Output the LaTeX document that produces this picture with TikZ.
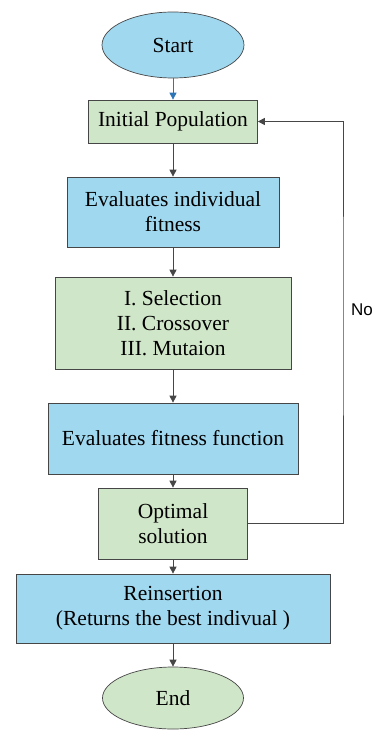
\documentclass[tikz,border=0pt]{standalone}
\usepackage{fontspec}
\setmainfont{Liberation Serif}
\newfontfamily\nofont{Liberation Sans}
\usetikzlibrary{shapes.geometric,arrows.meta,positioning}
\definecolor{boxblue}{RGB}{160,216,239}
\definecolor{boxgreen}{RGB}{208,230,200}
\definecolor{edgegray}{RGB}{70,70,70}
\definecolor{startblue}{RGB}{46,117,182}
\begin{document}
\begin{tikzpicture}[x=1pt,y=1pt,
	blk/.style = {draw=edgegray, line width=0.7pt, rectangle, align=center, inner sep=0pt, font=\fontsize{21.5}{25}\selectfont},
	term/.style = {draw=edgegray, line width=0.7pt, ellipse, inner sep=0pt, font=\fontsize{21.5}{25}\selectfont},
	flow/.style = {draw=edgegray, line width=0.8pt, -{Triangle[length=7pt,width=7pt]}}]
	\useasboundingbox (0,0) rectangle (376,-730);
	\node[term, fill=boxblue, minimum width=142pt, minimum height=66pt] (start) at (173,-45) {Start};
	\node[blk, fill=boxgreen, minimum width=169pt, minimum height=43pt, node distance=76.5pt] (init) [below of=start] {Initial Population};
	\node[blk, fill=boxblue, minimum width=212pt, minimum height=70pt, node distance=90.5pt] (evalind) [below of=init] {Evaluates individual\\fitness};
	\node[blk, fill=boxgreen, minimum width=236pt, minimum height=92pt, node distance=111pt] (ops) [below of=evalind] {I. Selection\\II. Crossover\\III. Mutaion};
	\node[blk, fill=boxblue, minimum width=250pt, minimum height=71pt, node distance=115.5pt] (evalfun) [below of=ops] {Evaluates fitness function};
	\node[blk, fill=boxgreen, minimum width=149pt, minimum height=71pt, node distance=85pt] (opt) [below of=evalfun] {Optimal\\solution};
	\node[blk, fill=boxblue, minimum width=314pt, minimum height=69pt, node distance=85pt] (reins) [below of=opt] {Reinsertion\\(Returns the best indivual )};
	\node[term, fill=boxgreen, minimum width=141pt, minimum height=62pt, node distance=89.5pt] (end) [below of=reins] {End};
	\coordinate (loop) at (343,-310);
	\node[font=\nofont\fontsize{17}{20}\selectfont] (no) at (362,-310) {No};
	\draw[flow, draw=startblue, fill=startblue] (start) -- (init);
	\draw[flow] (init) -- (evalind);
	\draw[flow] (evalind) -- (ops);
	\draw[flow] (ops) -- (evalfun);
	\draw[flow] (evalfun) -- (opt);
	\draw[flow] (opt) -- (reins);
	\draw[flow] (reins) -- (end);
	\draw[flow] (opt.east) -| (loop) |- (init.east);
\end{tikzpicture}
\end{document}
